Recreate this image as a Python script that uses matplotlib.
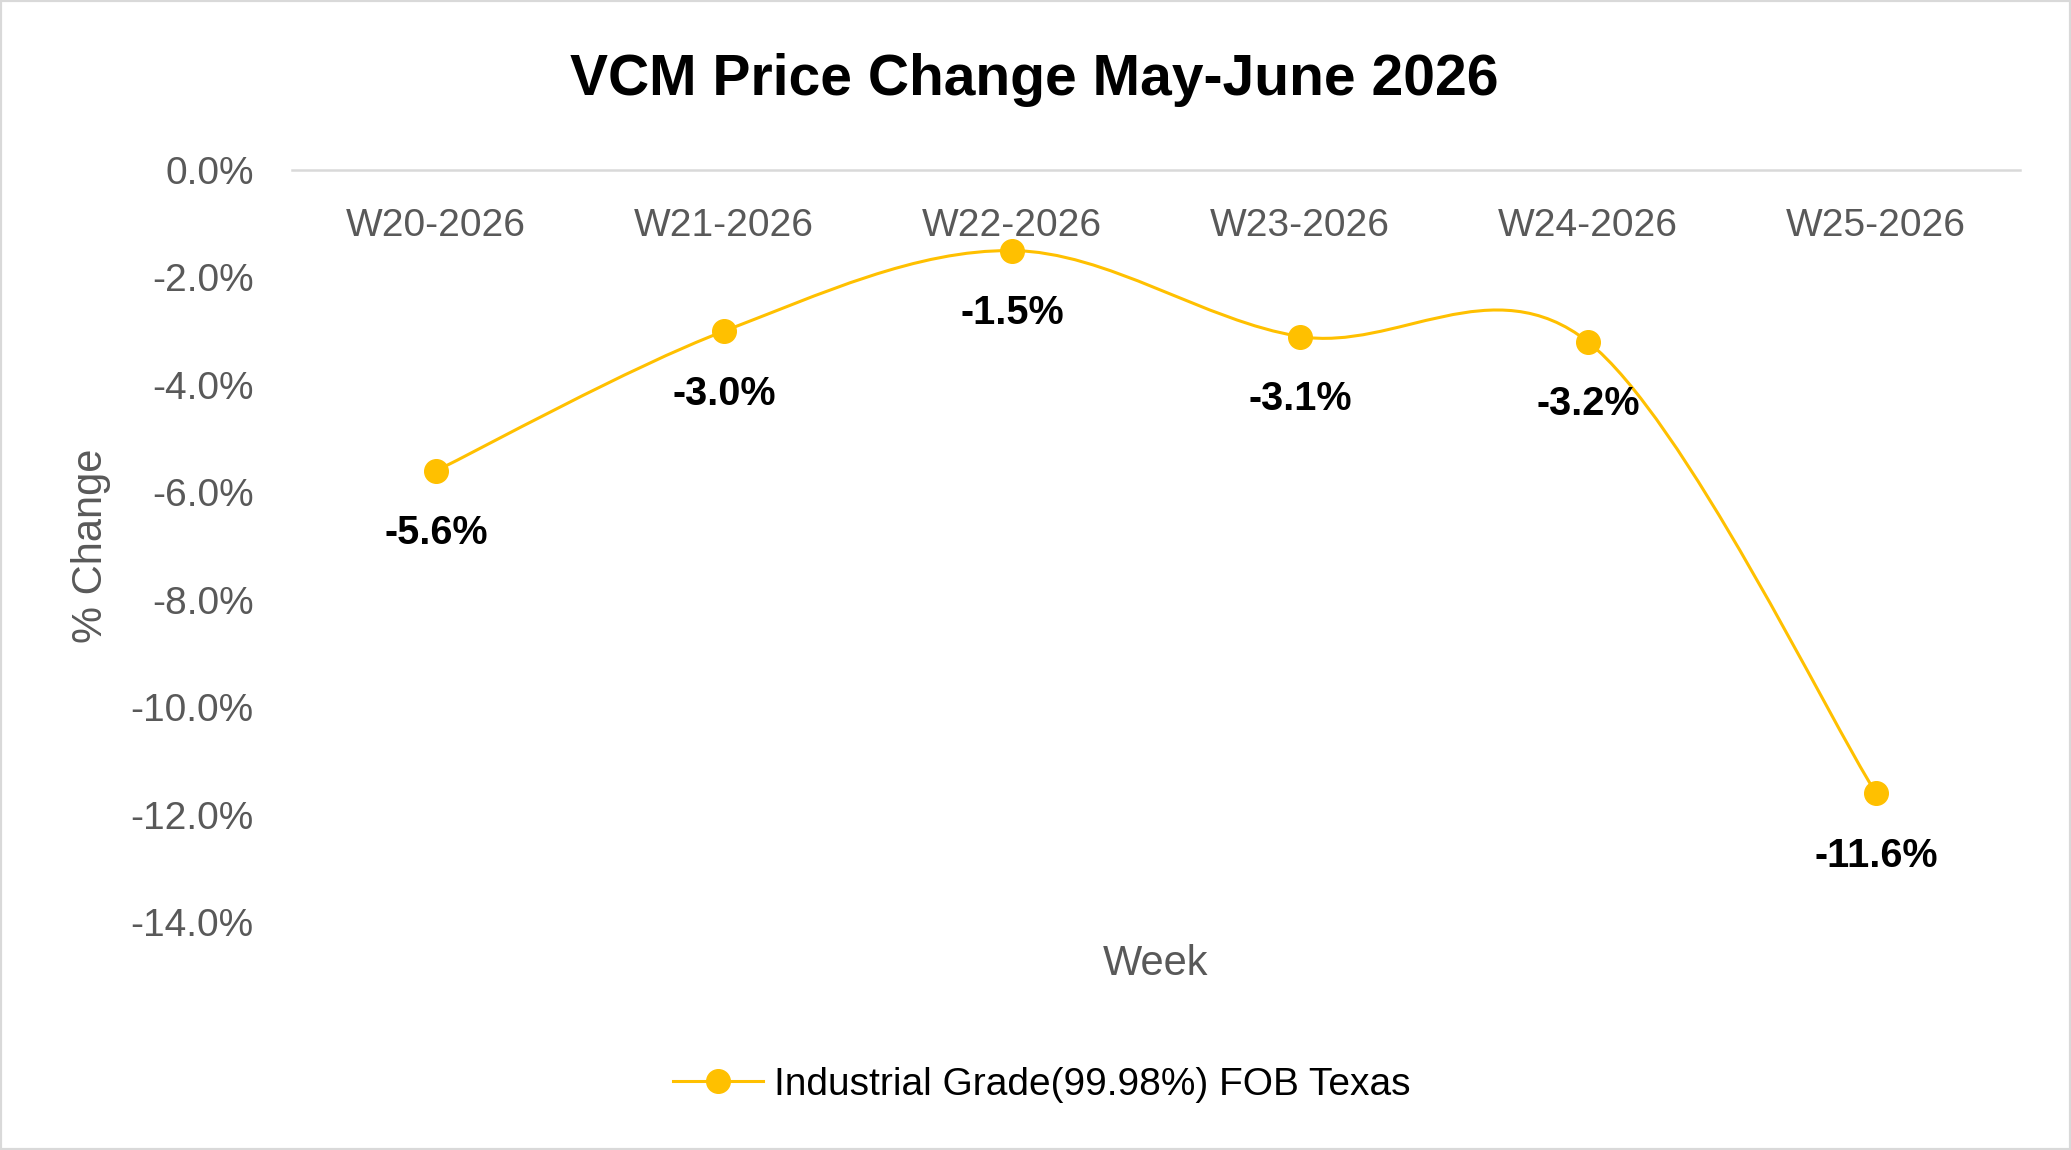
import matplotlib
matplotlib.use("Agg")
import matplotlib.pyplot as plt
from matplotlib.path import Path
from matplotlib.patches import PathPatch, Rectangle
from matplotlib.lines import Line2D
from matplotlib.ticker import FuncFormatter
import numpy as np

# ---- data ----
weeks = ["W20-2026", "W21-2026", "W22-2026", "W23-2026", "W24-2026", "W25-2026"]
pct_change = [-5.6, -3.0, -1.5, -3.1, -3.2, -11.6]
series_name = "Industrial Grade(99.98%) FOB Texas"
title = "VCM Price Change May-June 2026"
y_ticks = [0, -2, -4, -6, -8, -10, -12, -14]

GOLD = "#FFC000"
GRAY = "#595959"
plt.rcParams["font.family"] = ["Liberation Sans", "DejaVu Sans"]

fig = plt.figure(figsize=(20.71, 11.5), dpi=100)
ax = fig.add_axes([292/2071, 1-922/1150, 1728/2071, 752/1150])

x = np.arange(len(weeks))
y = np.array(pct_change, dtype=float)

# smoothed line (Excel-style Catmull-Rom Bezier) through the data points
pts = np.column_stack([x, y])
n = len(pts)
verts = [tuple(pts[0])]
codes = [Path.MOVETO]
for i in range(n - 1):
    p_prev = pts[max(i - 1, 0)]
    p0 = pts[i]
    p1 = pts[i + 1]
    p_next = pts[min(i + 2, n - 1)]
    c1 = p0 + (p1 - p_prev) / 6.0
    c2 = p1 - (p_next - p0) / 6.0
    verts += [tuple(c1), tuple(c2), tuple(p1)]
    codes += [Path.CURVE4] * 3
ax.add_patch(PathPatch(Path(verts, codes), fill=False, edgecolor=GOLD, lw=2.2, zorder=2))
ax.plot(x, y, linestyle="none", marker="o", markersize=17, color=GOLD, zorder=3)

for xi, yi in zip(x, y):
    ax.annotate(f"{yi:.1f}%", (xi, yi), xytext=(0, -45), textcoords="offset points",
                ha="center", va="center", fontsize=28.5, fontweight="bold", color="black")

ax.set_xlim(-0.5, len(weeks) - 0.5)
ax.set_ylim(-14, 0)
ax.set_yticks(y_ticks)
ax.yaxis.set_major_formatter(FuncFormatter(lambda v, p: f"{v:.1f}%" if v != 0 else "0.0%"))
ax.set_xticks(x)
ax.set_xticklabels(weeks)
ax.tick_params(axis="x", top=False, bottom=False, labeltop=True, labelbottom=False,
               pad=-27, labelsize=28, labelcolor=GRAY, length=0)
for lab in ax.get_xticklabels():
    lab.set_va("top")
ax.tick_params(axis="y", left=False, length=0, pad=27.5, labelsize=28, labelcolor=GRAY)

for s in ["left", "right", "bottom"]:
    ax.spines[s].set_visible(False)
ax.spines["top"].set_color("#D9D9D9")
ax.spines["top"].set_linewidth(1.8)

ax.set_xlabel("Week", fontsize=30, color=GRAY)
ax.xaxis.label.set_va("center")
ax.xaxis.set_label_coords(0.5, -42/752)
ax.set_ylabel("% Change", fontsize=30, color=GRAY)
ax.yaxis.label.set_va("center")
ax.yaxis.set_label_coords((91-292)/1728, 0.5)

fig.text(1034/2071, 1-80/1150, title, ha="center", va="center", fontsize=41,
         fontweight="bold", color="black")

handle = Line2D([], [], color=GOLD, lw=2.2, marker="o", markersize=17)
fig.legend([handle], [series_name], loc="center", bbox_to_anchor=(1042/2071, 1-1085/1150),
           frameon=False, fontsize=28, handlelength=2.3, handletextpad=0.3)

fig.patches.append(Rectangle((0, 0), 1, 1, transform=fig.transFigure, fill=False,
                             edgecolor="#D9D9D9", lw=3))

fig.savefig("out.png", dpi=100)
